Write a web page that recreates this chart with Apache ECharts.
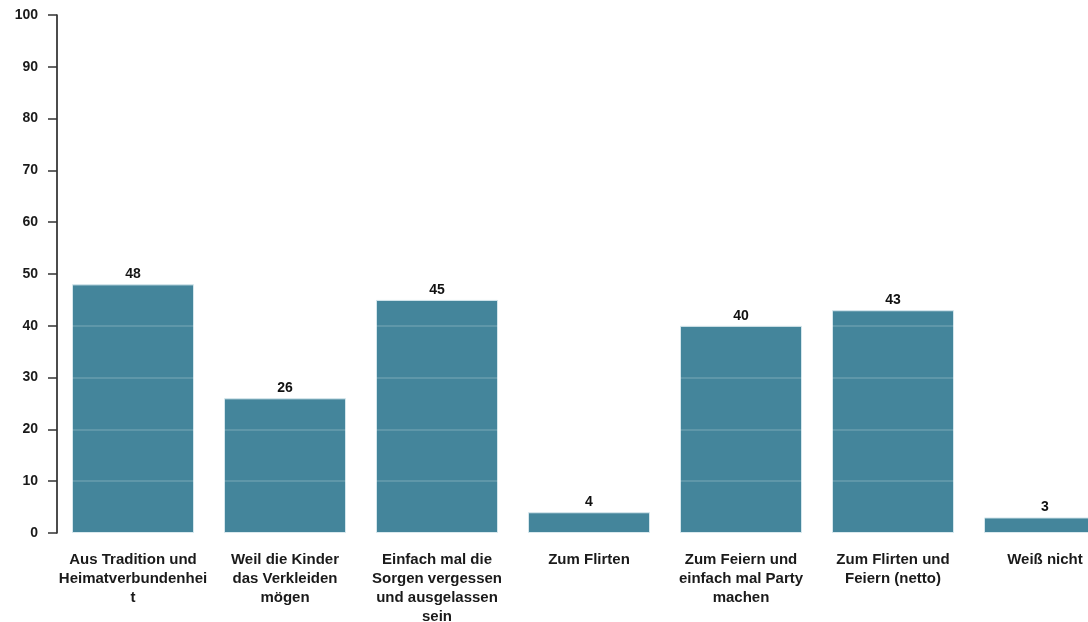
<!DOCTYPE html>
<html>
<head>
<meta charset="utf-8">
<script src="https://cdn.jsdelivr.net/npm/echarts@6/dist/echarts.min.js"></script>
<style>
  html, body { margin: 0; padding: 0; background: #ffffff; }
  #chart { width: 1088px; height: 622px; }
</style>
</head>
<body>
<div id="chart"></div>
<script>
// Reasons given (percent of respondents)
const categories = [
  'Aus Tradition und Heimatverbundenheit',
  'Weil die Kinder das Verkleiden mögen',
  'Einfach mal die Sorgen vergessen und ausgelassen sein',
  'Zum Flirten',
  'Zum Feiern und einfach mal Party machen',
  'Zum Flirten und Feiern (netto)',
  'Weiß nicht'
];
const values = [48, 26, 45, 4, 40, 43, 3];
const yTicks = [0, 10, 20, 30, 40, 50, 60, 70, 80, 90, 100];

// Wrap a label into lines of at most `max` characters; overlong words are cut.
function wrapChars(text, max) {
  const lines = [];
  let line = '';
  text.split(' ').forEach(function (word) {
    const candidate = line ? line + ' ' + word : word;
    if (candidate.length <= max) {
      line = candidate;
      return;
    }
    if (line) lines.push(line);
    line = word;
    while (line.length > max) {
      lines.push(line.slice(0, max));
      line = line.slice(max);
    }
  });
  if (line) lines.push(line);
  return lines.join('\n');
}

const chart = echarts.init(document.getElementById('chart'), null, { renderer: 'canvas' });

const font = 'Liberation Sans, Arial, Helvetica, sans-serif';

chart.setOption({
  animation: false,
  backgroundColor: '#ffffff',
  grid: {
    left: 57, top: 15, width: 1064, bottom: 89,
    containLabel: false,
    outerBoundsMode: 'none'
  },
  xAxis: {
    type: 'category',
    data: categories,
    boundaryGap: true,
    axisLine: { show: false },
    axisTick: { show: false },
    axisLabel: {
      interval: 0,
      margin: 17,
      lineHeight: 19,
      fontFamily: font,
      fontSize: 15,
      fontWeight: 'bold',
      color: '#1a1a1a',
      formatter: function (v) { return wrapChars(v, 18); }
    }
  },
  yAxis: {
    type: 'value',
    min: yTicks[0],
    max: yTicks[yTicks.length - 1],
    interval: 10,
    z: 5,
    axisLine: { show: true, lineStyle: { color: '#111', width: 1.5 } },
    axisTick: { show: true, length: 9, lineStyle: { color: '#333', width: 1.5 } },
    axisLabel: {
      margin: 19,
      fontFamily: font,
      fontSize: 14,
      fontWeight: 'bold',
      color: '#1a1a1a'
    },
    splitLine: { show: true, lineStyle: { color: 'rgba(255,255,255,0.2)', width: 1.5 } }
  },
  series: [{
    type: 'bar',
    data: values,
    barWidth: 122,
    z: 2,
    itemStyle: {
      color: '#44859b',
      borderColor: '#d4e6ec',
      borderWidth: 1
    },
    label: {
      show: true,
      position: 'top',
      distance: 3,
      fontFamily: font,
      fontSize: 14,
      fontWeight: 'bold',
      color: '#111'
    }
  }]
});
</script>
</body>
</html>
